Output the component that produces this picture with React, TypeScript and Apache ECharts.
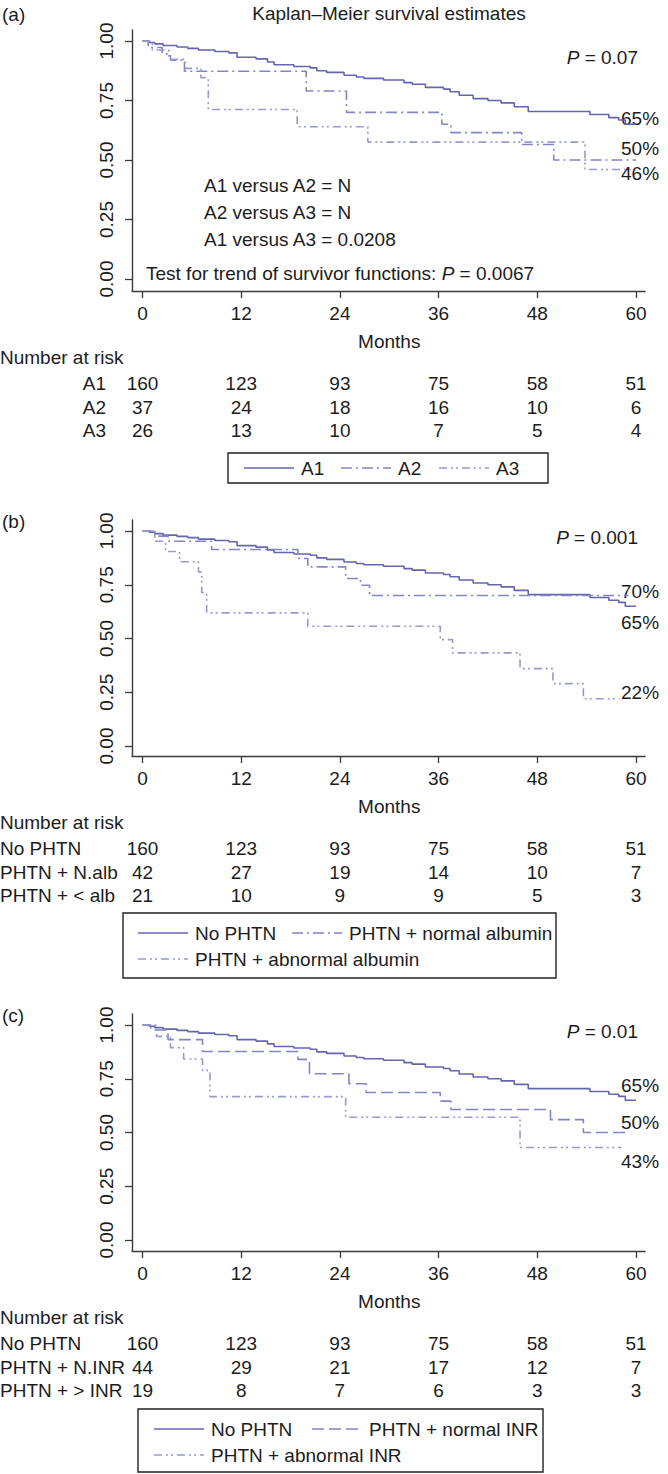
import React, { useEffect, useRef } from 'react';
import * as echarts from 'echarts';

const W = 668;
const H = 1474;

// ---------------- data ----------------
const xTickValues = [0, 12, 24, 36, 48, 60];
const yTickValues = [0, 0.25, 0.5, 0.75, 1];
const riskTimes = [0, 12, 24, 36, 48, 60];

// No PHTN (= A1), same group in all three panels
const timeA1 = [0, 0.8, 1.5, 2.5, 4.2, 5.5, 6.8, 8.8, 10.5, 11.5, 13.8, 15.2, 16, 18.4, 20.4, 21.2, 22.4, 24.5, 26, 26.9, 29.3, 31.8, 32.8, 34.4, 36.6, 37.4, 38.5, 40.2, 42, 43.6, 45.2, 46.9, 54.4, 56.7, 57.9, 58.7, 60];
const survA1 = [1, 0.994, 0.988, 0.981, 0.975, 0.969, 0.962, 0.956, 0.95, 0.932, 0.925, 0.912, 0.9, 0.893, 0.887, 0.875, 0.868, 0.856, 0.849, 0.843, 0.836, 0.825, 0.818, 0.805, 0.798, 0.787, 0.772, 0.758, 0.75, 0.74, 0.724, 0.704, 0.691, 0.678, 0.668, 0.65, 0.65];

// Panel (a)
const timeA2 = [0, 0.7, 2.4, 3.4, 5.1, 19.9, 24.8, 36.4, 37.5, 46.1, 50, 60];
const survA2 = [1, 0.973, 0.946, 0.919, 0.873, 0.79, 0.7, 0.65, 0.615, 0.565, 0.5, 0.5];
const timeA3 = [0, 1.2, 3.2, 5.2, 7.1, 8, 18.8, 27.4, 53.8, 60];
const survA3 = [1, 0.962, 0.923, 0.885, 0.846, 0.712, 0.64, 0.575, 0.46, 0.46];

// Panel (b)
const timeNAlb = [0, 1.5, 3.1, 8.4, 18.9, 20.1, 24.7, 26.5, 27.6, 59.1];
const survNAlb = [1, 0.976, 0.952, 0.914, 0.872, 0.833, 0.779, 0.748, 0.7, 0.7];
const timeLowAlb = [0, 1.5, 2.8, 4.5, 6.8, 7.2, 7.8, 20.1, 36.2, 37.7, 45.9, 49.9, 53.6, 58];
const survLowAlb = [1, 0.952, 0.905, 0.857, 0.81, 0.714, 0.619, 0.557, 0.495, 0.433, 0.36, 0.29, 0.22, 0.22];

// Panel (c)
const timeNInr = [0, 1, 3.1, 7.3, 18.9, 20.3, 25.1, 27.2, 36.2, 37.5, 49.6, 53.6, 59.1];
const survNInr = [1, 0.977, 0.932, 0.877, 0.84, 0.773, 0.727, 0.686, 0.646, 0.607, 0.56, 0.5, 0.5];
const timeHighInr = [0, 1.7, 3.4, 5, 7.3, 8.2, 24.7, 45.9, 58.2];
const survHighInr = [1, 0.947, 0.895, 0.842, 0.789, 0.667, 0.571, 0.43, 0.43];

// Numbers at risk
const riskA1 = [160, 123, 93, 75, 58, 51];
const riskA2 = [37, 24, 18, 16, 10, 6];
const riskA3 = [26, 13, 10, 7, 5, 4];
const riskNAlb = [42, 27, 19, 14, 10, 7];
const riskLowAlb = [21, 10, 9, 9, 5, 3];
const riskNInr = [44, 29, 21, 17, 12, 7];
const riskHighInr = [19, 8, 7, 6, 3, 3];

const riskLabelsA = ['A1', 'A2', 'A3'];
const riskLabelsB = ['No PHTN', 'PHTN + N.alb', 'PHTN + < alb'];
const riskLabelsC = ['No PHTN', 'PHTN + N.INR', 'PHTN + > INR'];

const legendA = ['A1', 'A2', 'A3'];
const legendB = ['No PHTN', 'PHTN + normal albumin', 'PHTN + abnormal albumin'];
const legendC = ['No PHTN', 'PHTN + normal INR', 'PHTN + abnormal INR'];

const pValues = ['0.07', '0.001', '0.01'];
const pctA = ['65%', '50%', '46%'];
const pctB = ['70%', '65%', '22%'];
const pctC = ['65%', '50%', '43%'];
const compareA = ['A1 versus A2 = N', 'A2 versus A3 = N', 'A1 versus A3 = 0.0208'];
const trendA = '0.0067';

// ---------------- style / layout ----------------
const FONT = '"Liberation Sans", Arial, Helvetica, sans-serif';
const FS = 19;
const TXT = '#1c1c1c';
const AXC = '#3a3a3a';
const C1 = '#6466ae';
const C2 = '#8386c2';
const C3 = '#989acf';
const DASH_DOT = [11, 4, 2, 4];
const DASH_DOT_DOT = [8, 4, 2, 3, 2, 4];
const LONG_DASH = [12, 5];

const AX = { left: 132, right: 645, x0: 142.5, x60: 636 };
const pxPerMonth = (AX.x60 - AX.x0) / 60;
const xMin = -(AX.x0 - AX.left) / pxPerMonth;
const xMax = 60 + (AX.right - AX.x60) / pxPerMonth;

const LAYOUT = [
  { y1: 41, y0: 279, top: 30, bottom: 291, pY: 0.93, pctY: [0.675, 0.55, 0.445] },
  { y1: 531, y0: 746, top: 520, bottom: 756, pY: 0.97, pctY: [0.72, 0.575, 0.25] },
  { y1: 1025, y0: 1240, top: 1014, bottom: 1251, pY: 0.97, pctY: [0.72, 0.545, 0.365] },
];

const LEGEND_LAYOUT = [
  { box: [228, 162, 320, 30], rows: [177], items: [[244, 0], [341, 0], [439, 0]] },
  { box: [123, 157, 433, 65], rows: [177, 203], items: [[138, 0], [292, 0], [138, 1]] },
  { box: [138, 158, 405, 63], rows: [178, 204], items: [[154, 0], [312, 0], [154, 1]] },
];

const PANELS = [
  {
    tag: '(a)',
    curves: [
      { t: timeA1, s: survA1, color: C1, dash: 'solid' as any },
      { t: timeA2, s: survA2, color: C2, dash: DASH_DOT },
      { t: timeA3, s: survA3, color: C3, dash: DASH_DOT_DOT },
    ],
    riskLabels: riskLabelsA,
    riskRows: [riskA1, riskA2, riskA3],
    legend: legendA,
    pct: pctA,
  },
  {
    tag: '(b)',
    curves: [
      { t: timeA1, s: survA1, color: C1, dash: 'solid' as any },
      { t: timeNAlb, s: survNAlb, color: C2, dash: DASH_DOT },
      { t: timeLowAlb, s: survLowAlb, color: C3, dash: DASH_DOT_DOT },
    ],
    riskLabels: riskLabelsB,
    riskRows: [riskA1, riskNAlb, riskLowAlb],
    legend: legendB,
    pct: pctB,
  },
  {
    tag: '(c)',
    curves: [
      { t: timeA1, s: survA1, color: C1, dash: 'solid' as any },
      { t: timeNInr, s: survNInr, color: C2, dash: LONG_DASH },
      { t: timeHighInr, s: survHighInr, color: C3, dash: DASH_DOT_DOT },
    ],
    riskLabels: riskLabelsC,
    riskRows: [riskA1, riskNInr, riskHighInr],
    legend: legendC,
    pct: pctC,
  },
];

function buildOption() {
  const grid: any[] = [];
  const xAxis: any[] = [];
  const yAxis: any[] = [];
  const series: any[] = [];
  LAYOUT.forEach((L, i) => {
    const unit = L.y0 - L.y1;
    const yMin = -(L.bottom - L.y0) / unit;
    const yMax = 1 + (L.y1 - L.top) / unit;
    grid.push({ left: AX.left, top: L.top, width: AX.right - AX.left, height: L.bottom - L.top });
    xAxis.push({
      type: 'value', gridIndex: i, min: xMin, max: xMax,
      axisLine: { show: true, onZero: false, lineStyle: { color: AXC, width: 1.4 } },
      axisTick: { show: true, customValues: xTickValues, length: 7, lineStyle: { color: AXC, width: 1.3 } },
      axisLabel: { customValues: xTickValues, fontSize: FS, fontFamily: FONT, color: TXT, margin: 13 },
      splitLine: { show: false },
    });
    yAxis.push({
      type: 'value', gridIndex: i, min: yMin, max: yMax,
      axisLine: { show: true, onZero: false, lineStyle: { color: AXC, width: 1.4 } },
      axisTick: { show: true, customValues: yTickValues, length: 7, lineStyle: { color: AXC, width: 1.3 } },
      axisLabel: {
        customValues: yTickValues, rotate: 90, fontSize: FS, fontFamily: FONT, color: TXT, margin: 16,
        formatter: (v: number) => v.toFixed(2),
      },
      splitLine: { show: false },
    });
    PANELS[i].curves.forEach((c) => {
      series.push({
        type: 'line', xAxisIndex: i, yAxisIndex: i, step: 'end', symbol: 'none', silent: true,
        data: c.t.map((t, k) => [t, c.s[k]]),
        lineStyle: { color: c.color, width: 1.6, type: c.dash },
      });
    });
  });
  return { animation: false, backgroundColor: '#ffffff', grid, xAxis, yAxis, series };
}

function txt(x: number, y: number, s: string, align = 'left', extra: any = {}) {
  return {
    type: 'text', x, y, silent: true,
    style: {
      text: s, fill: TXT, fontSize: FS, fontFamily: FONT,
      textAlign: align, textVerticalAlign: 'middle', ...extra,
    },
  };
}

function pText(x: number, y: number, rest: string, align = 'left') {
  return txt(x, y, '{i|P}' + rest, align, {
    rich: { i: { fontStyle: 'italic', fontSize: FS, fontFamily: FONT, fill: TXT } },
  });
}

function buildGraphic(chart: any) {
  const g: any[] = [];
  const px = (i: number, v: number) => chart.convertToPixel({ xAxisIndex: i }, v);
  const py = (i: number, v: number) => chart.convertToPixel({ yAxisIndex: i }, v);

  g.push(txt(389, 13, 'Kaplan\u2013Meier survival estimates', 'center'));

  PANELS.forEach((P, i) => {
    const L = LAYOUT[i];
    const B = L.bottom;
    g.push(txt(2, i === 0 ? 14 : L.top + 1, P.tag, 'left'));
    g.push(pText(638, py(i, L.pY), ' = ' + pValues[i], 'right'));
    P.pct.forEach((s, k) => g.push(txt(621, py(i, L.pctY[k]), s, 'left')));
    g.push(txt(px(i, 30), B + 50, 'Months', 'center'));
    g.push(txt(0, B + 66, 'Number at risk', 'left'));
    const rowY = [B + 92, B + 116, B + 139];
    P.riskLabels.forEach((lab, r) => {
      if (i === 0) g.push(txt(106, rowY[r], lab, 'right'));
      else g.push(txt(0, rowY[r], lab, 'left'));
      P.riskRows[r].forEach((n, k) => g.push(txt(px(i, riskTimes[k]), rowY[r], String(n), 'center')));
    });
    const LG = LEGEND_LAYOUT[i];
    g.push({
      type: 'rect', silent: true,
      shape: { x: LG.box[0], y: B + LG.box[1], width: LG.box[2], height: LG.box[3] },
      style: { fill: 'none', stroke: '#222', lineWidth: 1.4 },
    });
    P.legend.forEach((name, k) => {
      const [x, row] = LG.items[k];
      const y = B + LG.rows[row];
      const c = P.curves[k];
      g.push({
        type: 'line', silent: true,
        shape: { x1: x, y1: y, x2: x + 50, y2: y },
        style: { stroke: c.color, lineWidth: 1.6, lineDash: c.dash === 'solid' ? null : c.dash },
      });
      g.push(txt(x + 57, y, name, 'left'));
    });
  });

  compareA.forEach((s, k) => g.push(txt(204, [185, 212, 239][k], s, 'left')));
  g.push(pText(146, 273, ' = ' + trendA, 'left'));
  // prefix before the italic P
  g[g.length - 1].style.text = 'Test for trend of survivor functions: {i|P} = ' + trendA;
  return g;
}

export default function App() {
  const ref = useRef<HTMLDivElement>(null);
  useEffect(() => {
    document.body.style.margin = '0';
    const chart = echarts.init(ref.current as HTMLDivElement, null, { renderer: 'svg', width: W, height: H });
    chart.setOption(buildOption() as any);
    chart.setOption({ graphic: buildGraphic(chart) } as any);
    return () => chart.dispose();
  }, []);
  return <div ref={ref} style={{ position: 'absolute', left: 0, top: 0, width: W, height: H }} />;
}
